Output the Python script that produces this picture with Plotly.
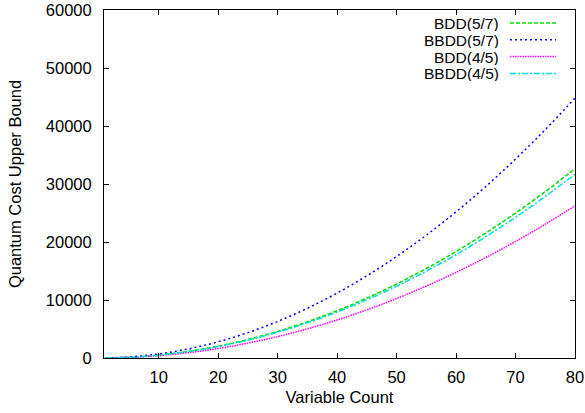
import plotly.graph_objects as go

# Data
variable_count = [1, 5, 10, 15, 20, 25, 30, 35, 40, 45, 50, 55, 60, 65, 70, 75, 80]
bdd_5_7 = [5, 128, 510, 1150, 2040, 3190, 4590, 6250, 8160, 10330, 12750, 15430, 18360, 21550, 24990, 28690, 32640]
bbdd_5_7 = [7, 175, 700, 1575, 2800, 4375, 6300, 8575, 11200, 14175, 17500, 21175, 25200, 29575, 34300, 39375, 44800]
bdd_4_5 = [4, 103, 410, 923, 1640, 2563, 3690, 5023, 6560, 8303, 10250, 12403, 14760, 17323, 20090, 23063, 26240]
bbdd_4_5 = [5, 124, 495, 1114, 1980, 3094, 4455, 6064, 7920, 10024, 12375, 14974, 17820, 20914, 24255, 27844, 31680]

series_names = ["BDD(5/7)", "BBDD(5/7)", "BDD(4/5)", "BBDD(4/5)"]
series_values = [bdd_5_7, bbdd_5_7, bdd_4_5, bbdd_4_5]
colors = ["#00dd00", "#0000ff", "#ff00ff", "#00dddd"]
dashes = ["4px,2px", "2px,3px", "1.5px,1px", "6px,2px,2px,2px"]

x_ticks = [10, 20, 30, 40, 50, 60, 70, 80]
y_ticks = [0, 10000, 20000, 30000, 40000, 50000, 60000]

W, H = 585, 413
L, R, T, B = 104, 10, 10, 55
pw, ph = W - L - R, H - T - B
FS = 16.5
KEY_FS = 15.5
FONT = "Liberation Sans, Arial, sans-serif"

fig = go.Figure()
for name, vals, c, d in zip(series_names, series_values, colors, dashes):
    fig.add_trace(go.Scatter(x=variable_count, y=vals, mode="lines", name=name,
                             line=dict(color=c, width=1.5, dash=d, shape="spline"),
                             showlegend=False, cliponaxis=True))

# gnuplot-style key: right-aligned text, sample line to the right
shapes = []
annotations = []
for i, (name, c, d) in enumerate(zip(series_names, colors, dashes)):
    py = 23 + i * 16.8
    yp = (H - B - py) / ph
    annotations.append(dict(x=(499 - L) / pw, y=yp, xref="paper", yref="paper",
                            text=name, showarrow=False, xanchor="right", yanchor="middle",
                            xshift=1, height=16, borderpad=0,
                            font=dict(size=KEY_FS, color="black", family=FONT)))
    shapes.append(dict(type="line", xref="paper", yref="paper",
                       x0=(510 - L) / pw, x1=(556 - L) / pw, y0=yp, y1=yp,
                       line=dict(color=c, width=1.5, dash=d)))

axis_common = dict(showline=True, linecolor="black", linewidth=1, mirror="allticks",
                   ticks="inside", ticklen=5, tickcolor="black", showgrid=False,
                   zeroline=False, automargin=False,
                   tickfont=dict(size=FS, color="black", family=FONT))

fig.update_layout(
    width=W, height=H,
    margin=dict(l=L, r=R, t=T, b=B, autoexpand=False),
    paper_bgcolor="white", plot_bgcolor="white",
    font=dict(family=FONT, size=FS, color="black"),
    xaxis=dict(range=[0.8, 80], tickvals=x_ticks, tickformat="d", ticklabelstandoff=4,
               title=dict(text="Variable Count", font=dict(size=FS), standoff=6), **axis_common),
    yaxis=dict(range=[0, 60000], tickvals=y_ticks, tickformat="d", ticklabelstandoff=8,
               title=dict(text="Quantum Cost Upper Bound", font=dict(size=FS), standoff=20), **axis_common),
    shapes=shapes, annotations=annotations,
)

fig.write_html("out.html", config={"displayModeBar": False},
               post_script="document.body.style.margin='0';")
